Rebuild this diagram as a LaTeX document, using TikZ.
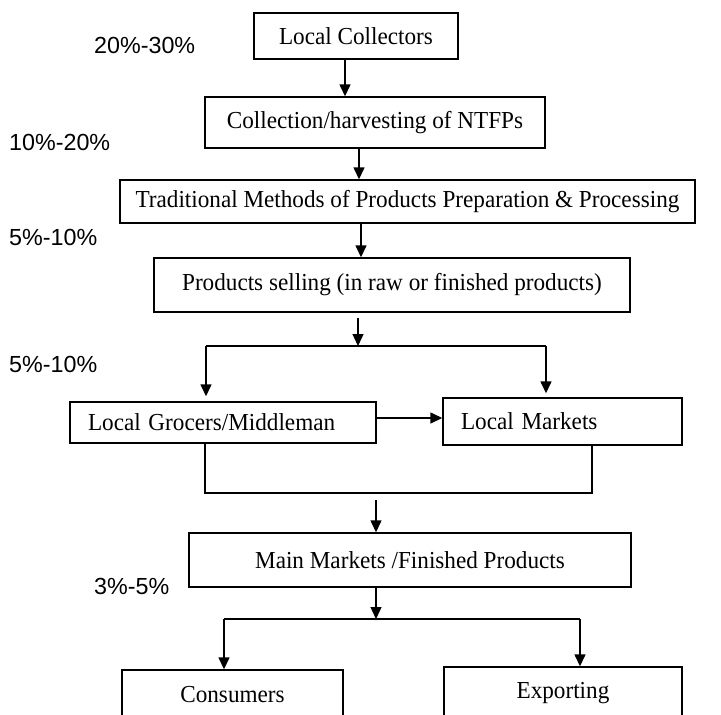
\documentclass[tikz,border=0pt]{standalone}
\usepackage{fontspec}
\setmainfont{Liberation Serif}
\newfontfamily\pctfont{Liberation Sans}
\usetikzlibrary{arrows.meta}
\newcommand\bt[1]{\scalebox{0.95}[1]{#1}}
\begin{document}
\begin{tikzpicture}[x=1pt,y=-1pt,
 box/.style={draw, line width=1.4pt, inner sep=0pt, font=\fontsize{24.4}{28}\selectfont},
 lbox/.style={box, align=left, inner xsep=18pt},
 pct/.style={anchor=west, inner sep=0pt, font=\pctfont\fontsize{23.3}{27}\selectfont},
 arr/.style={line width=1.4pt, -{Triangle[length=12pt,width=11pt]}},
 ln/.style={line width=1.4pt}]
\useasboundingbox (0,0) rectangle (721,715);
\fill[white] (0,0) rectangle (721,715);
\clip (0,0) rectangle (721,715);
% boxes
\node[box, minimum width=204pt, minimum height=46pt] (lc) at (356,36) {\bt{Local Collectors}};
\node[box, minimum width=340pt, minimum height=51pt] (col) at (375,122.5) {\bt{Collection/harvesting of NTFPs}};
\node[box, minimum width=575pt, minimum height=43pt] (trad) at (407.5,201.5) {\bt{Traditional Methods of Products Preparation \& Processing}};
\node[box, minimum width=476pt, minimum height=54pt] (ps) at (392,285) {\bt{Products selling (in raw or finished products)}};
\node[lbox, text width=270pt, minimum height=41pt] (lg) at (223,422.5) {\bt{Local Grocers/Middleman}};
\node[lbox, text width=203pt, minimum height=47pt] (lm) at (562.5,421.5) {\bt{Local Markets}};
\node[box, minimum width=442pt, minimum height=54pt] (mm) at (410,560) {\bt{Main Markets /Finished Products}};
\node[box, minimum width=221pt, minimum height=50pt] (cons) at (232.5,695) {\bt{Consumers}};
\node[box, minimum width=238pt, minimum height=52pt] (exp) at (563,693) {\bt{Exporting}};
% percentages
\node[pct] (p1) at (94,45) {20\%-30\%};
\node[pct] (p2) at (9,142) {10\%-20\%};
\node[pct] (p3) at (9,237) {5\%-10\%};
\node[pct] (p4) at (9,364) {5\%-10\%};
\node[pct] (p5) at (94,586) {3\%-5\%};
% coordinates
\coordinate (x1) at (345,0);
\coordinate (x2) at (359,0);
\coordinate (x3) at (361,0);
\coordinate (j1) at (358,346);
\coordinate (jl) at (206,346);
\coordinate (jr) at (546,346);
\coordinate (yg) at (0,418);
\coordinate (bl) at (205,493);
\coordinate (br) at (592,493);
\coordinate (j2) at (376,500);
\coordinate (j3) at (376,619);
\coordinate (kl) at (224,619);
\coordinate (kr) at (580,619);
% connectors
\draw[arr] (lc.south -| x1) -- (col.north -| x1);
\draw[arr] (col.south -| x2) -- (trad.north -| x2);
\draw[arr] (trad.south -| x3) -- (ps.north -| x3);
\draw[arr] ([yshift=-5pt]ps.south -| j1) -- (j1);
\draw[ln] (jl) -- (jr);
\draw[arr, shorten >=5pt] (jl) -- (jl |- lg.north);
\draw[arr, shorten >=4pt] (jr) -- (jr |- lm.north);
\draw[arr] (lg.east |- yg) -- (lm.west |- yg);
\draw[ln] (lg.south -| bl) -- (bl) -- (br) -- (lm.south -| br);
\draw[arr] (j2) -- (mm.north -| j2);
\draw[arr] (mm.south -| j3) -- (j3);
\draw[ln] (kl) -- (kr);
\draw[arr] (kl) -- (kl |- cons.north);
\draw[arr] (kr) -- (kr |- exp.north);
\end{tikzpicture}
\end{document}
